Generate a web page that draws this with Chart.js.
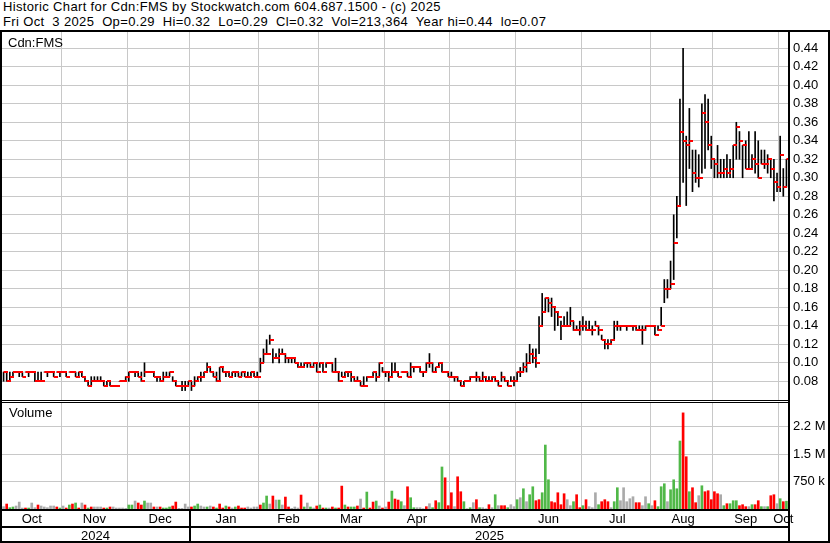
<!DOCTYPE html>
<html>
<head>
<meta charset="utf-8">
<script src="https://cdn.jsdelivr.net/npm/chart.js@4.4.0/dist/chart.umd.min.js"></script>
<style>
  body { margin: 0; background: #fff; }
  #wrap { position: relative; width: 830px; height: 543px; overflow: hidden; background: #fff;
          font-family: Arial, "Liberation Sans", sans-serif; font-size: 13px; color: #000; }
  .txt { position: absolute; white-space: pre; line-height: 15px; }
  .hdr { font-size: 13px; letter-spacing: 0.35px; }
  .ln { position: absolute; background: #000; z-index: 5; }
  canvas { position: absolute; }
</style>
</head>
<body>
<div id="wrap">
  <div class="txt hdr" style="left:3px;top:-1px">Historic Chart for Cdn:FMS by Stockwatch.com 604.687.1500 - (c) 2025</div>
  <div class="txt hdr" style="left:3px;top:14px">Fri Oct  3 2025  Op=0.29  Hi=0.32  Lo=0.29  Cl=0.32  Vol=213,364  Year hi=0.44  lo=0.07</div>

  <canvas id="priceChart" width="826" height="369" style="left:2px;top:32px"></canvas>
  <canvas id="volChart" width="826" height="140" style="left:2px;top:403px"></canvas>

  <div class="txt" style="left:8px;top:35px;z-index:6">Cdn:FMS</div>
  <div class="txt" style="left:9px;top:405px;z-index:6">Volume</div>
  <div class="txt" style="left:81px;top:528px">2024</div>
  <div class="txt" style="left:475px;top:528px">2025</div>

  <!-- frame -->
  <div class="ln" style="left:0;top:30px;width:830px;height:2px"></div>
  <div class="ln" style="left:0;top:30px;width:2px;height:513px"></div>
  <div class="ln" style="left:828px;top:30px;width:2px;height:513px"></div>
  <div class="ln" style="left:0;top:541px;width:830px;height:2px"></div>
  <div class="ln" style="left:788px;top:30px;width:2px;height:513px"></div>
  <div class="ln" style="left:0;top:400px;width:789px;height:1px"></div>
  <div class="ln" style="left:0;top:402px;width:789px;height:1px"></div>
  <div class="ln" style="left:0;top:509px;width:789px;height:2px"></div>
  <div class="ln" style="left:0;top:526px;width:789px;height:2px"></div>
  <div class="ln" style="left:189px;top:510px;width:2px;height:32px"></div>
</div>

<script>
// months shown on the axis and trading days in each
const monthNames = ['Oct', 'Nov', 'Dec', 'Jan', 'Feb', 'Mar', 'Apr', 'May', 'Jun', 'Jul', 'Aug', 'Sep', 'Oct'];
const monthYears = [2024, 2024, 2024, 2025, 2025, 2025, 2025, 2025, 2025, 2025, 2025, 2025, 2025];
const monthBars = [19, 21, 20, 22, 19, 21, 21, 21, 21, 22, 20, 21, 3];

const highs = [
  .09,.09,.09,.09,.09,.09,.09,.09,.09,.09,.09,.09,.09,.09,.09,.09,.09,.09,.09,
  .09,.09,.09,.09,.09,.09,.09,.085,.08,.085,.085,.085,.085,.08,.08,.08,.075,.075,.08,.08,.085,
  .09,.09,.09,.09,.09,.10,.09,.09,.09,.085,.085,.09,.09,.09,.085,.08,.075,.08,.08,.08,
  .08,.085,.085,.09,.09,.10,.095,.09,.09,.095,.095,.09,.09,.09,.09,.09,.09,.09,.09,.09,.09,.09,
  .105,.115,.125,.13,.115,.11,.115,.115,.11,.105,.105,.105,.10,.10,.10,.10,.10,.10,.10,
  .10,.10,.10,.10,.10,.105,.09,.09,.09,.09,.09,.085,.085,.08,.085,.085,.085,.09,.09,.10,.095,
  .09,.09,.10,.10,.09,.09,.09,.09,.10,.095,.095,.095,.09,.10,.11,.10,.095,.10,.10,.09,.09,
  .09,.085,.085,.08,.08,.08,.085,.085,.09,.085,.09,.085,.085,.085,.085,.08,.09,.085,.08,.085,.085,
  .09,.095,.10,.11,.12,.115,.115,.15,.175,.17,.17,.17,.16,.155,.145,.15,.155,.16,.145,.14,.145,
  .15,.145,.145,.14,.145,.14,.13,.125,.125,.125,.145,.145,.14,.14,.14,.14,.14,.14,.14,.14,.14,.14,
  .14,.14,.14,.16,.19,.19,.21,.26,.28,.385,.44,.345,.375,.33,.33,.325,.38,.39,.385,.345,
  .32,.335,.32,.32,.325,.32,.335,.36,.35,.335,.34,.35,.325,.35,.34,.33,.33,.325,.32,.32,.305,
  .345,.31,.32
];
const lows = [
  .08,.08,.08,.085,.09,.085,.085,.09,.085,.09,.08,.08,.08,.09,.085,.09,.085,.09,.085,
  .09,.085,.09,.09,.085,.085,.085,.08,.075,.075,.08,.08,.08,.075,.075,.075,.075,.075,.08,.08,.08,
  .08,.09,.085,.085,.08,.085,.09,.09,.085,.08,.08,.08,.085,.085,.08,.075,.075,.07,.07,.075,
  .07,.075,.08,.08,.085,.09,.09,.085,.08,.08,.09,.085,.085,.085,.085,.085,.085,.085,.085,.085,.085,.085,
  .09,.10,.11,.12,.10,.105,.10,.11,.10,.10,.10,.10,.095,.095,.095,.095,.095,.095,.09,
  .095,.09,.095,.10,.09,.09,.08,.085,.085,.085,.08,.08,.08,.075,.075,.08,.085,.085,.08,.085,.09,
  .085,.08,.085,.09,.085,.09,.09,.085,.085,.09,.095,.09,.085,.09,.095,.09,.09,.095,.09,.09,.085,
  .085,.08,.08,.075,.075,.08,.08,.085,.08,.08,.08,.08,.08,.08,.08,.075,.08,.08,.075,.08,.075,
  .08,.085,.09,.09,.10,.10,.095,.11,.14,.155,.155,.15,.135,.14,.125,.14,.14,.14,.135,.135,.13,
  .135,.135,.135,.13,.14,.13,.125,.115,.115,.12,.125,.135,.135,.14,.135,.14,.135,.135,.135,.12,.135,.14,
  .14,.13,.135,.14,.165,.17,.18,.19,.235,.27,.295,.27,.31,.285,.295,.29,.305,.31,.33,.31,
  .30,.30,.30,.30,.30,.30,.30,.32,.32,.30,.31,.31,.31,.305,.30,.315,.31,.305,.30,.275,.285,
  .285,.28,.29
];
const closes = [
  .09,.08,.085,.09,.09,.09,.085,.09,.09,.09,.08,.08,.08,.09,.09,.09,.085,.09,.09,
  .09,.085,.09,.09,.085,.09,.085,.08,.075,.08,.08,.08,.08,.075,.08,.075,.075,.075,.08,.08,.085,
  .09,.09,.09,.085,.08,.09,.09,.09,.085,.085,.08,.085,.085,.09,.08,.075,.075,.075,.075,.08,
  .075,.08,.085,.085,.09,.095,.09,.085,.08,.095,.09,.09,.085,.09,.09,.085,.09,.085,.085,.09,.085,.085,
  .10,.11,.11,.125,.105,.105,.11,.11,.105,.105,.105,.10,.095,.095,.10,.10,.095,.10,.09,
  .10,.09,.10,.10,.09,.09,.08,.085,.09,.09,.085,.08,.08,.075,.075,.085,.085,.09,.085,.10,.09,
  .09,.085,.09,.09,.085,.09,.09,.085,.095,.095,.095,.09,.09,.10,.10,.09,.095,.10,.09,.09,.085,
  .085,.085,.08,.075,.08,.08,.085,.085,.085,.08,.085,.08,.08,.085,.08,.075,.085,.08,.075,.08,.08,
  .09,.09,.095,.10,.11,.105,.10,.14,.155,.17,.165,.16,.155,.15,.14,.14,.14,.145,.135,.135,.14,
  .14,.135,.135,.135,.14,.135,.125,.12,.12,.125,.14,.14,.14,.14,.14,.14,.14,.135,.135,.135,.14,.14,
  .14,.13,.135,.14,.18,.18,.185,.23,.27,.35,.34,.335,.34,.305,.30,.30,.37,.36,.335,.32,
  .315,.305,.305,.31,.305,.31,.335,.355,.34,.335,.31,.31,.32,.315,.30,.315,.315,.32,.31,.295,.29,
  .325,.29,.32
];
// daily volume in thousands of shares
const volumesK = [
  64,136,36,55,82,190,27,27,27,164,36,109,82,55,36,82,82,55,27,
  82,27,109,136,164,27,164,109,27,55,55,55,55,27,27,55,55,27,27,27,18,
  109,109,218,164,109,218,164,164,55,55,55,27,27,55,82,190,18,18,136,55,
  55,82,136,82,55,55,82,55,27,136,27,82,55,27,55,82,27,27,55,27,55,55,
  109,164,355,136,355,245,245,109,327,55,18,55,27,382,55,164,55,27,82,
  109,27,27,27,55,27,27,627,109,55,55,55,82,273,27,464,27,190,218,82,27,
  55,190,491,273,245,200,91,609,309,36,36,36,9,64,145,36,227,173,1150,854,91,
  445,64,882,473,200,9,36,173,255,36,36,9,118,36,391,91,91,91,36,118,64,
  255,309,554,200,391,609,227,255,445,1750,800,200,173,445,118,418,255,91,200,391,36,
  91,255,64,36,445,118,200,255,200,36,200,582,227,582,200,282,336,173,173,91,336,145,
  91,227,64,609,691,200,527,800,554,1860,2630,1430,473,582,173,364,636,473,500,255,
  473,418,391,91,145,145,227,227,91,118,64,64,118,118,227,64,64,64,364,391,145,
  282,200,213
];
// 1 = closed up, -1 = closed down, 0 = unchanged
const volDir = [
  0,-1,1,1,0,0,0,-1,1,0,0,-1,0,0,0,0,0,-1,1,
  0,-1,1,-1,1,-1,0,-1,1,-1,0,0,0,-1,1,-1,0,0,0,0,0,
  1,1,0,-1,-1,1,0,0,-1,0,-1,1,1,1,-1,-1,0,0,0,0,
  -1,1,1,0,0,1,0,-1,1,-1,-1,1,-1,0,1,-1,-1,-1,0,0,0,0,
  -1,1,1,0,-1,0,1,0,-1,-1,0,0,0,-1,1,0,1,0,-1,
  1,-1,1,0,-1,1,-1,-1,1,-1,1,1,-1,0,-1,1,-1,-1,1,0,-1,
  0,-1,1,-1,-1,1,0,-1,1,1,0,0,0,-1,0,1,-1,1,1,-1,-1,
  -1,0,-1,-1,1,0,1,0,-1,1,0,0,-1,0,1,0,-1,-1,1,0,0,
  1,0,1,0,1,1,-1,-1,1,1,1,-1,-1,-1,-1,-1,0,0,1,-1,-1,
  1,-1,0,0,0,1,-1,-1,-1,0,1,1,0,0,0,0,0,-1,-1,0,0,1,
  0,-1,1,1,1,0,1,1,1,1,-1,-1,1,-1,-1,0,1,-1,-1,-1,
  -1,-1,0,1,-1,1,1,1,-1,-1,-1,0,1,-1,-1,1,0,1,-1,-1,0,
  1,-1,1
];

const priceTicks = [0.08, 0.10, 0.12, 0.14, 0.16, 0.18, 0.20, 0.22, 0.24, 0.26, 0.28, 0.30, 0.32, 0.34, 0.36, 0.38, 0.40, 0.42, 0.44];
const volTicks = [750, 1500, 2250];
const volTickLabels = ['750 k', '1.5 M', '2.2 M'];

// build category labels and month boundaries
const labels = [];
const monthStart = [];
const monthMid = {};
let k = 0;
monthBars.forEach((n, m) => {
  monthStart.push(k);
  monthMid[k + Math.floor(n / 2)] = monthNames[m];
  for (let d = 1; d <= n; d++) labels.push(monthNames[m] + ' ' + monthYears[m] + ' #' + d);
  k += n;
});

Chart.defaults.font.family = 'Arial, "Liberation Sans", sans-serif';
Chart.defaults.font.size = 13;
Chart.defaults.color = '#000';

// red close tick, sitting a little to the right of the stick
const closeMark = document.createElement('canvas');
closeMark.width = 8;
closeMark.height = 2;
const cm = closeMark.getContext('2d');
cm.fillStyle = '#ff0000';
cm.fillRect(4, 0, 4, 2);

const gridColor = '#c8c8c8';
const monthGrid = (ctx) => (ctx.index > 0 && monthStart.includes(ctx.index)) ? gridColor : 'rgba(0,0,0,0)';

function xScale(h, showLabels) {
  return {
    offset: true,
    grid: { offset: true, drawTicks: false, color: monthGrid, lineWidth: 1 },
    border: { display: false },
    ticks: {
      display: showLabels, autoSkip: false, maxRotation: 0, minRotation: 0, padding: 3,
      callback: (v, i) => monthMid[i] || ''
    },
    afterFit: (s) => { s.height = h; s.paddingLeft = 0; s.paddingRight = 0; }
  };
}
function yFit(s) { s.width = 40; s.paddingTop = 0; s.paddingBottom = 0; }

const common = {
  responsive: false,
  animation: false,
  events: [],
  layout: { padding: 0, autoPadding: false },
  plugins: { legend: { display: false }, tooltip: { enabled: false } }
};

new Chart(document.getElementById('priceChart'), {
  type: 'bar',
  data: {
    labels: labels,
    datasets: [
      {
        type: 'line', data: closes, showLine: false,
        pointStyle: closeMark, pointRadius: 3, order: 0
      },
      {
        type: 'bar', data: highs.map((h, i) => [lows[i], h]),
        backgroundColor: '#000', barThickness: 1, grouped: false, order: 1
      }
    ]
  },
  options: Object.assign({}, common, {
    scales: {
      x: xScale(0, false),
      y: {
        position: 'right', min: 0.0587, max: 0.4576,
        afterBuildTicks: (s) => { s.ticks = priceTicks.map(v => ({ value: v })); },
        ticks: { padding: 5, callback: (v) => v.toFixed(2) },
        grid: { drawTicks: false, color: gridColor, lineWidth: 1 },
        border: { display: false },
        afterFit: yFit
      }
    }
  })
});

new Chart(document.getElementById('volChart'), {
  type: 'bar',
  data: {
    labels: labels,
    datasets: [{
      data: volumesK,
      backgroundColor: volDir.map(d => d > 0 ? '#50b848' : (d < 0 ? '#ff0000' : '#aaaaaa')),
      barThickness: 2, grouped: false
    }]
  },
  options: Object.assign({}, common, {
    scales: {
      x: xScale(34, true),
      y: {
        position: 'right', min: 0, max: 2900,
        afterBuildTicks: (s) => { s.ticks = volTicks.map(v => ({ value: v })); },
        ticks: { padding: 5, callback: (v) => volTickLabels[volTicks.indexOf(v)] },
        grid: { drawTicks: false, color: gridColor, lineWidth: 1 },
        border: { display: false },
        afterFit: yFit
      }
    }
  })
});
</script>
</body>
</html>
